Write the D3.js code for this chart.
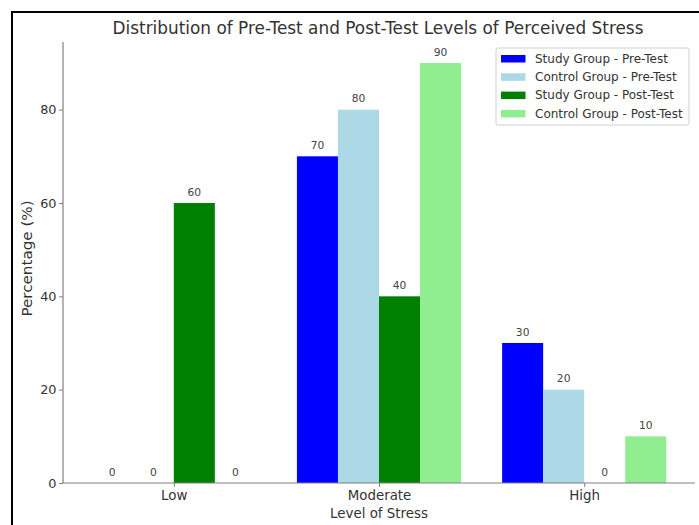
<!DOCTYPE html>
<html>
<head>
<meta charset="utf-8">
<script src="https://cdn.jsdelivr.net/npm/d3@7/dist/d3.min.js"></script>
<style>
  html, body { margin: 0; padding: 0; background: #fff; }
  svg { display: block; font-family: "DejaVu Sans", sans-serif; }
</style>
</head>
<body>
<svg id="chart" width="699" height="525"></svg>
<script>
// Stress level categories and the four group/test series (percentages)
const categories = ["Low", "Moderate", "High"];
const seriesNames = [
  "Study Group - Pre-Test",
  "Control Group - Pre-Test",
  "Study Group - Post-Test",
  "Control Group - Post-Test"
];
const studyPre = [0, 70, 30];
const controlPre = [0, 80, 20];
const studyPost = [60, 40, 0];
const controlPost = [0, 90, 10];
const yTicks = [0, 20, 40, 60, 80];

const seriesValues = [studyPre, controlPre, studyPost, controlPost];
const colors = ["#0000ff", "#add8e6", "#008000", "#90ee90"];
const barWidth = 0.2;

const svg = d3.select("#chart");

// Outer frame
svg.append("rect")
  .attr("x", 12).attr("y", 12)
  .attr("width", 720).attr("height", 540)
  .attr("fill", "none").attr("stroke", "#000").attr("stroke-width", 2);

const plotLeft = 63, plotRight = 695, plotTop = 42, plotBottom = 483;

const x = d3.scaleLinear().domain([-0.54, 2.54]).range([plotLeft, plotRight]);
const y = d3.scaleLinear().domain([0, 94.5]).range([plotBottom, plotTop]);

// Bars with value labels above them
seriesValues.forEach((vals, i) => {
  const offset = (i - 1.5) * barWidth;
  const g = svg.append("g");
  g.selectAll("rect").data(vals).enter().append("rect")
    .attr("x", (d, j) => x(j + offset - barWidth / 2))
    .attr("width", (d, j) => x(j + offset + barWidth / 2) - x(j + offset - barWidth / 2))
    .attr("y", d => y(d))
    .attr("height", d => y(0) - y(d))
    .attr("fill", colors[i]);
  g.selectAll("text").data(vals).enter().append("text")
    .attr("x", (d, j) => x(j + offset))
    .attr("y", d => y(d) - 7.2)
    .attr("text-anchor", "middle")
    .attr("font-size", 10.7)
    .attr("fill", "#444")
    .text(d => d);
});

// Axes
const yAxis = svg.append("g")
  .attr("transform", `translate(${plotLeft},0)`)
  .call(d3.axisLeft(y).tickValues(yTicks).tickSize(4).tickPadding(2.5));
const xAxis = svg.append("g")
  .attr("transform", `translate(0,${plotBottom})`)
  .call(d3.axisBottom(x).tickValues([0, 1, 2]).tickFormat((d) => categories[d]).tickSize(4).tickPadding(3));

[yAxis, xAxis].forEach(a => {
  a.select(".domain").attr("stroke", "#808080").attr("stroke-width", 1.2);
  a.selectAll(".tick line").attr("stroke", "#808080");
  a.selectAll(".tick text")
    .attr("font-family", "DejaVu Sans, sans-serif")
    .attr("fill", "#333");
});
yAxis.selectAll(".tick text").attr("font-size", 12.8);
xAxis.selectAll(".tick text").attr("font-size", 13.4);
// plain spines without end caps
yAxis.select(".domain").attr("d", `M0,${plotTop}V${plotBottom}`);
xAxis.select(".domain").attr("d", `M${plotLeft},0H${plotRight}`);

// Title and axis labels
svg.append("text")
  .attr("x", 378).attr("y", 34)
  .attr("text-anchor", "middle")
  .attr("font-size", 16.9)
  .attr("fill", "#333")
  .text("Distribution of Pre-Test and Post-Test Levels of Perceived Stress");

svg.append("text")
  .attr("x", (plotLeft + plotRight) / 2).attr("y", 518)
  .attr("text-anchor", "middle")
  .attr("font-size", 13.4)
  .attr("fill", "#333")
  .text("Level of Stress");

svg.append("text")
  .attr("transform", `translate(32.3,258.5) rotate(-90) scale(1.14,1)`)
  .attr("text-anchor", "middle")
  .attr("font-size", 13.3)
  .attr("fill", "#333")
  .text("Percentage (%)");

// Legend
const legend = svg.append("g").attr("transform", "translate(496,48)");
legend.append("rect")
  .attr("width", 193).attr("height", 77).attr("rx", 2)
  .attr("fill", "#fff").attr("stroke", "#d0d0d0");
seriesNames.forEach((name, i) => {
  const row = legend.append("g").attr("transform", `translate(0,${10.5 + i * 18.3})`);
  row.append("rect")
    .attr("x", 5).attr("y", -3.5)
    .attr("width", 24.5).attr("height", 7.5)
    .attr("fill", colors[i]);
  row.append("text")
    .attr("x", 39).attr("y", 4.3)
    .attr("font-size", 12)
    .attr("fill", "#333")
    .text(name);
});
</script>
</body>
</html>
